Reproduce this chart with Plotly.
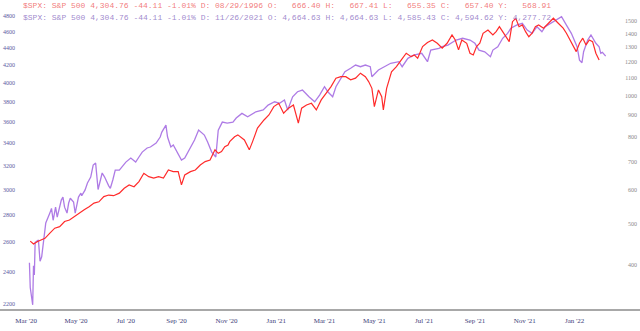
import pandas as pd
import plotly.graph_objects as go

# ---- data ----
purple_dates = [
    "2020-03-19", "2020-03-20", "2020-03-23", "2020-03-24", "2020-03-25", "2020-03-26", "2020-03-30",
    "2020-04-01", "2020-04-03", "2020-04-06", "2020-04-08", "2020-04-13", "2020-04-15", "2020-04-17",
    "2020-04-20", "2020-04-22", "2020-04-27", "2020-04-29", "2020-05-01", "2020-05-04", "2020-05-06",
    "2020-05-08", "2020-05-12", "2020-05-14", "2020-05-18", "2020-05-21", "2020-05-22", "2020-05-26",
    "2020-05-29", "2020-06-02", "2020-06-05", "2020-06-08", "2020-06-11", "2020-06-16", "2020-06-19",
    "2020-06-24", "2020-06-26", "2020-06-29", "2020-07-02", "2020-07-07", "2020-07-10", "2020-07-15",
    "2020-07-21", "2020-07-27", "2020-07-31", "2020-08-04", "2020-08-10", "2020-08-14", "2020-08-21",
    "2020-08-26", "2020-08-28", "2020-09-02", "2020-09-04", "2020-09-08", "2020-09-11", "2020-09-16",
    "2020-09-21", "2020-09-25", "2020-09-29", "2020-10-02", "2020-10-07", "2020-10-12", "2020-10-19",
    "2020-10-23", "2020-10-28", "2020-11-02", "2020-11-05", "2020-11-10", "2020-11-16", "2020-11-23",
    "2020-11-27", "2020-12-04", "2020-12-11", "2020-12-21", "2020-12-30", "2021-01-05", "2021-01-13",
    "2021-01-19", "2021-01-25", "2021-01-29", "2021-02-04", "2021-02-10", "2021-02-16", "2021-02-24",
    "2021-03-03", "2021-03-09", "2021-03-15", "2021-03-19", "2021-03-25", "2021-03-29", "2021-04-05",
    "2021-04-09", "2021-04-16", "2021-04-22", "2021-04-28", "2021-05-04", "2021-05-10", "2021-05-12",
    "2021-05-20", "2021-05-28", "2021-06-04", "2021-06-14", "2021-06-18", "2021-06-25", "2021-07-02",
    "2021-07-12", "2021-07-19", "2021-07-23", "2021-08-02", "2021-08-06", "2021-08-13", "2021-08-23",
    "2021-08-31", "2021-09-09", "2021-09-15", "2021-09-20", "2021-09-27", "2021-10-04", "2021-10-07",
    "2021-10-13", "2021-10-19", "2021-10-25", "2021-10-29", "2021-11-05", "2021-11-12", "2021-11-18",
    "2021-11-24", "2021-11-30", "2021-12-06", "2021-12-10", "2021-12-17", "2021-12-23", "2021-12-30",
    "2022-01-05", "2022-01-11", "2022-01-18", "2022-01-21", "2022-01-24", "2022-01-26", "2022-01-31",
    "2022-02-04", "2022-02-10", "2022-02-14", "2022-02-16", "2022-02-18", "2022-02-22",
]
purple_values = [
    2460, 2300, 2195, 2440, 2380, 2600, 2616,
    2470, 2500, 2660, 2740, 2814, 2850, 2760,
    2860, 2784, 2915, 2939, 2860, 2814, 2892,
    2930, 2900, 2814, 2939, 2971, 2950, 2995,
    3053, 3103, 3205, 3223, 3000, 3137, 3103,
    3030, 3010, 3078, 3162, 3162, 3188, 3231,
    3267, 3231, 3276, 3320, 3357, 3366, 3402,
    3458, 3505, 3572, 3458, 3366, 3384, 3320,
    3249, 3267, 3320, 3366, 3430, 3524, 3477,
    3412, 3320, 3276, 3524, 3601, 3592, 3601,
    3641, 3687, 3653, 3703, 3721, 3771, 3805,
    3789, 3823, 3721, 3857, 3910, 3928, 3857,
    3805, 3875, 3963, 3910, 3857, 3963, 4072,
    4128, 4166, 4203, 4184, 4203, 4184, 4072,
    4147, 4184, 4223, 4241, 4184, 4280, 4318,
    4339, 4241, 4377, 4398, 4417, 4437, 4498,
    4519, 4498, 4458, 4377, 4357, 4299, 4377,
    4417, 4519, 4580, 4643, 4684, 4706, 4621,
    4580, 4663, 4600, 4663, 4706, 4748, 4791,
    4684, 4580, 4417, 4260, 4230, 4357, 4498,
    4559, 4458, 4417, 4339, 4350, 4305,
]

red_dates = [
    "2020-03-20", "2020-03-24", "2020-03-29", "2020-04-07", "2020-04-13", "2020-04-19", "2020-04-25",
    "2020-05-01", "2020-05-07", "2020-05-13", "2020-05-19", "2020-05-25", "2020-05-31", "2020-06-06",
    "2020-06-12", "2020-06-18", "2020-06-24", "2020-06-30", "2020-07-07", "2020-07-13", "2020-07-19",
    "2020-07-25", "2020-07-31", "2020-08-06", "2020-08-12", "2020-08-18", "2020-08-24", "2020-08-30",
    "2020-09-05", "2020-09-11", "2020-09-17", "2020-09-21", "2020-09-25", "2020-10-02", "2020-10-08",
    "2020-10-14", "2020-10-20", "2020-10-26", "2020-11-01", "2020-11-05", "2020-11-09", "2020-11-13",
    "2020-11-17", "2020-11-19", "2020-11-25", "2020-11-29", "2020-12-07", "2020-12-13", "2020-12-17",
    "2020-12-23", "2020-12-31", "2021-01-06", "2021-01-12", "2021-01-18", "2021-01-24", "2021-01-30",
    "2021-02-05", "2021-02-11", "2021-02-15", "2021-02-21", "2021-02-27", "2021-03-05", "2021-03-11",
    "2021-03-17", "2021-03-23", "2021-03-29", "2021-04-04", "2021-04-10", "2021-04-16", "2021-04-22",
    "2021-04-28", "2021-05-04", "2021-05-08", "2021-05-12", "2021-05-15", "2021-05-20", "2021-05-24",
    "2021-05-26", "2021-05-30", "2021-06-05", "2021-06-11", "2021-06-17", "2021-06-23", "2021-06-29",
    "2021-07-03", "2021-07-07", "2021-07-13", "2021-07-19", "2021-07-25", "2021-07-31", "2021-08-06",
    "2021-08-12", "2021-08-18", "2021-08-22", "2021-08-26", "2021-08-30", "2021-09-05", "2021-09-09",
    "2021-09-13", "2021-09-17", "2021-09-21", "2021-09-25", "2021-10-01", "2021-10-07", "2021-10-11",
    "2021-10-15", "2021-10-19", "2021-10-23", "2021-10-27", "2021-10-31", "2021-11-04", "2021-11-08",
    "2021-11-12", "2021-11-16", "2021-11-20", "2021-11-24", "2021-11-28", "2021-12-02", "2021-12-08",
    "2021-12-14", "2021-12-20", "2021-12-26", "2022-01-01", "2022-01-05", "2022-01-09", "2022-01-13",
    "2022-01-17", "2022-01-21", "2022-01-25", "2022-01-29", "2022-02-02", "2022-02-06", "2022-02-10",
    "2022-02-14",
]
red_values = [
    455, 448, 454, 462, 475, 488, 492,
    506, 510, 520, 529, 539, 548, 559,
    563, 579, 584, 582, 590, 606, 617,
    611, 628, 657, 645, 640, 645, 640,
    669, 663, 663, 617, 651, 663, 669,
    687, 700, 706, 746, 732, 739, 759,
    766, 780, 801, 809, 787, 746, 780,
    839, 877, 901, 943, 960, 910, 935,
    951, 862, 935, 951, 960, 926, 978,
    1014, 1051, 1100, 1109, 1109, 1090, 1100,
    1130, 1109, 1080, 1041, 943, 1032, 995,
    926, 1041, 1139, 1171, 1214, 1259, 1236,
    1247, 1225, 1305, 1335, 1353, 1329, 1294,
    1329, 1390, 1353, 1282, 1353, 1329, 1259,
    1247, 1305, 1329, 1403, 1428, 1390, 1415,
    1454, 1415, 1377, 1341, 1494, 1522, 1454,
    1468, 1415, 1377, 1403, 1454, 1468, 1442,
    1481, 1522, 1481, 1442, 1403, 1353, 1305,
    1270, 1329, 1366, 1317, 1353, 1341, 1259,
    1214,
]

x_tick_months = ["2020-03-01", "2020-05-01", "2020-07-01", "2020-09-01", "2020-11-01", "2021-01-01",
                 "2021-03-01", "2021-05-01", "2021-07-01", "2021-09-01", "2021-11-01", "2022-01-01"]
x_tick_labels = ["Mar '20", "May '20", "Jul '20", "Sep '20", "Nov '20", "Jan '21",
                 "Mar '21", "May '21", "Jul '21", "Sep '21", "Nov '21", "Jan '22"]
left_ticks = [2200, 2400, 2600, 2800, 3000, 3200, 3400, 3600, 3800, 4000, 4200, 4400, 4600, 4800]
right_ticks = [400, 500, 600, 700, 800, 900, 1000, 1100, 1200, 1300, 1400, 1500]

header_red = ("$SPX: S&P 500 4,304.76 -44.11 -1.01% D: 08/29/1996 O:   666.40 H:   667.41 "
              "L:   655.35 C:   657.40 Y:   568.91")
header_purple = ("$SPX: S&P 500 4,304.76 -44.11 -1.01% D: 11/26/2021 O: 4,664.63 H: 4,664.63 "
                 "L: 4,585.43 C: 4,594.62 Y: 4,277.72")

# labels are drawn a little to the right of each month start (as in the source chart)
label_pos = [(pd.Timestamp(d) + pd.Timedelta(days=14)).strftime("%Y-%m-%d") for d in x_tick_months]

# ---- figure ----
fig = go.Figure()
fig.add_trace(go.Scatter(x=red_dates, y=red_values, yaxis="y2", mode="lines",
                         line=dict(color="#ff2b2b", width=1.2), hoverinfo="skip"))
fig.add_trace(go.Scatter(x=purple_dates, y=purple_values, yaxis="y", mode="lines",
                         line=dict(color="rgba(160,100,225,0.85)", width=1.3), hoverinfo="skip"))

fig.update_layout(
    width=640, height=331,
    margin=dict(l=0, r=0, t=0, b=22),
    paper_bgcolor="white", plot_bgcolor="white",
    showlegend=False,
    xaxis=dict(
        type="date", range=["2020-02-12", "2022-04-05"],
        tickmode="array", tickvals=label_pos, ticktext=x_tick_labels,
        ticklabelstandoff=4, ticks="", showgrid=False, zeroline=False,
        showline=True, linecolor="#a8a8a8", linewidth=2,
        tickfont=dict(family="Liberation Serif, serif", size=7, color="#3c3c78"),
    ),
    yaxis=dict(
        type="log", range=[3.3365, 3.7001],
        tickmode="array", tickvals=left_ticks, ticktext=[str(v) for v in left_ticks],
        ticklabelposition="inside", side="left", ticks="",
        showgrid=False, zeroline=False, showline=False,
        tickfont=dict(family="Liberation Serif, serif", size=6, color="#5a5aa0"),
    ),
    yaxis2=dict(
        type="log", range=[2.4983, 3.2253], overlaying="y", side="right",
        tickmode="array", tickvals=right_ticks, ticktext=[str(v) for v in right_ticks],
        ticklabelposition="inside", ticks="",
        showgrid=False, zeroline=False, showline=False,
        tickfont=dict(family="Liberation Serif, serif", size=6, color="#8a8a8a"),
    ),
)

nb = "\u00a0"
fig.add_annotation(xref="paper", yref="paper", x=20.5 / 640, y=(309 - 6) / 309,
                   xanchor="left", yanchor="middle", showarrow=False,
                   text=header_red.replace(" ", nb),
                   font=dict(family="Liberation Mono, Courier New, monospace", size=8,
                             color="rgba(240,110,110,0.9)"))
fig.add_annotation(xref="paper", yref="paper", x=20.5 / 640, y=(309 - 17.5) / 309,
                   xanchor="left", yanchor="middle", showarrow=False,
                   text=header_purple.replace(" ", nb),
                   font=dict(family="Liberation Mono, Courier New, monospace", size=8,
                             color="rgba(150,125,200,0.9)"))

fig.write_html("out.html", config={"displayModeBar": False})
